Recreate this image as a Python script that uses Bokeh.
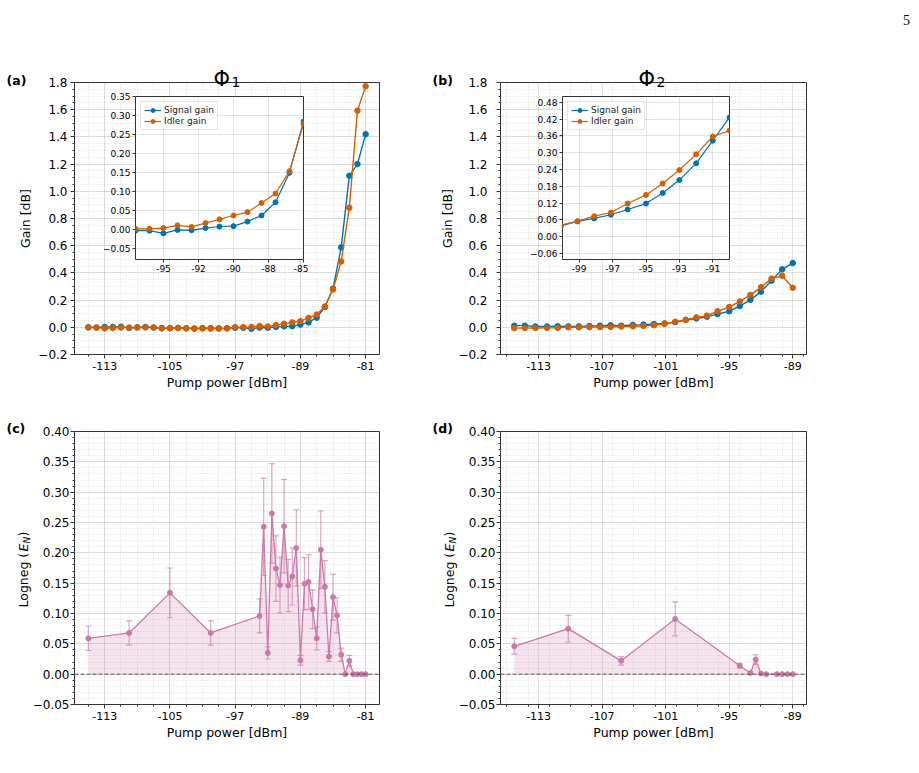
import numpy as np
from bokeh.embed import file_html
from bokeh.resources import INLINE
from bokeh.plotting import figure
from bokeh.models import (ColumnDataSource, FixedTicker, Whisker, TeeHead, Span, Label,
                          Legend, LegendItem, Range1d, GridBox)

FONT = "DejaVu Sans"
BLUE = "#0072B2"
ORANGE = "#D55E00"
PINK = "#CC79A7"

# ---------------- data ----------------
a_x = [-115, -114, -113, -112, -111, -110, -109, -108, -107, -106, -105, -104, -103, -102,
       -101, -100, -99, -98, -97, -96, -95, -94, -93, -92, -91, -90, -89, -88, -87, -86,
       -85, -84, -83, -82, -81]
a_signal = [0.000, -0.002, 0.003, 0.003, 0.005, -0.005, 0.000, 0.002, -0.002, -0.006,
            -0.006, -0.004, -0.007, -0.010, -0.006, -0.006, -0.008, -0.007, -0.004, -0.004,
            -0.011, -0.002, -0.003, 0.003, 0.007, 0.008, 0.020, 0.036, 0.071, 0.149,
            0.284, 0.588, 1.114, 1.200, 1.420]
a_idler = [0.000, -0.002, -0.008, -0.006, -0.002, -0.002, -0.002, -0.001, -0.001, -0.008,
           -0.007, -0.006, -0.008, -0.008, -0.009, -0.010, -0.009, -0.008, 0.001, 0.001,
           0.003, 0.010, 0.006, 0.016, 0.026, 0.036, 0.045, 0.069, 0.094, 0.153,
           0.278, 0.484, 0.879, 1.593, 1.773]

b_x = [-115.3, -114.3, -113.3, -112.2, -111.2, -110.2, -109.2, -108.2, -107.2, -106.2,
       -105.2, -104.1, -103.1, -102.1, -101.1, -100.1, -99.1, -98.1, -97.1, -96.1,
       -95.0, -94.0, -93.0, -92.0, -91.0, -90.0, -89.0]
b_signal = [0.012, 0.012, 0.006, 0.006, 0.008, 0.007, 0.007, 0.010, 0.012, 0.015,
            0.012, 0.017, 0.020, 0.024, 0.028, 0.038, 0.054, 0.065, 0.078, 0.097,
            0.118, 0.156, 0.202, 0.262, 0.343, 0.426, 0.472]
b_idler = [-0.006, -0.006, -0.005, -0.004, -0.004, 0.000, 0.000, 0.001, 0.002, 0.002,
           0.005, 0.007, 0.010, 0.015, 0.025, 0.041, 0.055, 0.073, 0.086, 0.118,
           0.149, 0.190, 0.238, 0.294, 0.358, 0.379, 0.291]

c_x = [-115, -110, -105, -100, -94, -93.5, -93, -92.5, -92, -91.5, -91, -90.5, -90, -89.5,
       -89, -88.5, -88, -87.5, -87, -86.5, -86, -85.5, -85, -84.5, -84, -83.5, -83, -82.5,
       -82, -81.5, -81]
c_logneg = [0.059, 0.068, 0.134, 0.068, 0.096, 0.243, 0.035, 0.265, 0.174, 0.147, 0.244,
            0.146, 0.161, 0.208, 0.023, 0.149, 0.152, 0.107, 0.059, 0.205, 0.144, 0.029,
            0.127, 0.097, 0.032, 0.000, 0.022, 0.000, 0.000, 0.000, 0.000]
c_err = [0.020, 0.020, 0.041, 0.020, 0.028, 0.080, 0.010, 0.082, 0.054, 0.046, 0.077,
         0.043, 0.047, 0.063, 0.008, 0.043, 0.045, 0.032, 0.019, 0.064, 0.043, 0.008,
         0.038, 0.029, 0.011, 0.000, 0.009, 0.000, 0.000, 0.000, 0.000]

d_x = [-115.3, -110.2, -105.2, -100.1, -94.0, -93.0, -92.5, -92.0, -91.5, -90.5, -90.0,
       -89.5, -89.0]
d_logneg = [0.046, 0.075, 0.022, 0.091, 0.014, 0.002, 0.024, 0.001, 0.000, 0.000, 0.000,
            0.000, 0.000]
d_err = [0.013, 0.022, 0.007, 0.028, 0.004, 0.000, 0.008, 0.000, 0.000, 0.000, 0.000,
         0.000, 0.000]

# ---------------- ticks ----------------
a_x_ticks = [-113, -105, -97, -89, -81]
a_x_labels = ["-113", "-105", "-97", "-89", "-81"]
b_x_ticks = [-113, -107, -101, -95, -89]
b_x_labels = ["-113", "-107", "-101", "-95", "-89"]
gain_y_ticks = [-0.2, 0.0, 0.2, 0.4, 0.6, 0.8, 1.0, 1.2, 1.4, 1.6, 1.8]
gain_y_labels = ["\u22120.2", "0.0", "0.2", "0.4", "0.6", "0.8", "1.0", "1.2", "1.4", "1.6", "1.8"]
ln_y_ticks = [-0.05, 0.0, 0.05, 0.1, 0.15, 0.2, 0.25, 0.3, 0.35, 0.4]
ln_y_labels = ["\u22120.05", "0.00", "0.05", "0.10", "0.15", "0.20", "0.25", "0.30", "0.35", "0.40"]
ia_x_ticks = [-95, -92.5, -90, -87.5, -85]
ia_x_labels = ["-95", "-92", "-90", "-88", "-85"]
ia_y_ticks = [-0.05, 0.0, 0.05, 0.1, 0.15, 0.2, 0.25, 0.3, 0.35]
ia_y_labels = ["\u22120.05", "0.00", "0.05", "0.10", "0.15", "0.20", "0.25", "0.30", "0.35"]
ib_x_ticks = [-99, -97, -95, -93, -91]
ib_x_labels = ["-99", "-97", "-95", "-93", "-91"]
ib_y_ticks = [-0.06, 0.0, 0.06, 0.12, 0.18, 0.24, 0.3, 0.36, 0.42, 0.48]
ib_y_labels = ["\u22120.06", "0.00", "0.06", "0.12", "0.18", "0.24", "0.30", "0.36", "0.42", "0.48"]

odd_minor = list(range(-117, -78, 2))
even_minor = list(range(-118, -86, 2))
gain_minor = [round(-0.2 + 0.05 * i, 3) for i in range(41)]
ln_minor = [round(-0.05 + 0.01 * i, 3) for i in range(46)]


def style(p, xt, xl, xminor, yt, yl, yminor, xfs, yfs, ystand, minor_grid=True):
    xtk = FixedTicker(ticks=xt, minor_ticks=xminor)
    ytk = FixedTicker(ticks=yt, minor_ticks=yminor)
    p.xaxis.ticker = xtk
    p.xgrid.ticker = xtk
    p.yaxis.ticker = ytk
    p.ygrid.ticker = ytk
    p.xaxis.major_label_overrides = dict(zip(xt, xl))
    p.yaxis.major_label_overrides = dict(zip(yt, yl))
    for ax in (p.xaxis[0], p.yaxis[0]):
        ax.axis_line_color = None
        ax.major_tick_in = 0
        ax.major_tick_out = 4
        ax.minor_tick_in = 0
        ax.minor_tick_out = 2 if minor_grid else 0
        ax.major_tick_line_color = "#333333"
        ax.minor_tick_line_color = "#333333" if minor_grid else None
        ax.major_label_text_font = FONT
        ax.major_label_text_color = "black"
        ax.axis_label_text_font = FONT
        ax.axis_label_text_font_style = "normal"
        ax.axis_label_text_color = "black"
        ax.axis_label_text_font_size = "12.5px"
        ax.axis_label_standoff = 2
    p.xaxis.major_label_text_font_size = xfs
    p.yaxis.major_label_text_font_size = yfs
    p.xaxis.major_label_standoff = 3
    p.yaxis.major_label_standoff = ystand
    for g in (p.xgrid[0], p.ygrid[0]):
        g.grid_line_color = "#b0b0b0"
        g.grid_line_alpha = 0.45
        g.grid_line_width = 0.8
        if minor_grid:
            g.minor_grid_line_color = "#b0b0b0"
            g.minor_grid_line_alpha = 0.55
            g.minor_grid_line_width = 0.8
            g.minor_grid_line_dash = "1 2"
    p.outline_line_color = "#333333"
    p.outline_line_width = 1
    p.outline_line_alpha = 1


def make_fig(w, h, xr, yr, bl, br, bt, bb, transparent=False):
    p = figure(width=w, height=h, x_range=Range1d(*xr), y_range=Range1d(*yr),
               output_backend="svg", toolbar_location=None,
               min_border_left=bl, min_border_right=br, min_border_top=bt, min_border_bottom=bb)
    p.frame_align = False
    p.background_fill_color = "white"
    p.border_fill_color = None if transparent else "white"
    return p


def gain_glyphs(p, x, s, i, lw=1.4, size=5.5):
    l1 = p.line(x, s, line_color=BLUE, line_width=lw)
    s1 = p.scatter(x, s, size=size, fill_color=BLUE, line_color=BLUE)
    l2 = p.line(x, i, line_color=ORANGE, line_width=lw)
    s2 = p.scatter(x, i, size=size, fill_color=ORANGE, line_color=ORANGE)
    return (l1, s1), (l2, s2)


def logneg_panel(p, x, val, err):
    p.varea(x=x, y1=[0.0] * len(x), y2=val, fill_color=PINK, fill_alpha=0.2)
    p.add_layout(Span(location=0, dimension="width", line_color="#555555", line_dash="4 2",
                      line_width=1))
    keep = [k for k, e in enumerate(err) if e > 0]
    src = ColumnDataSource(dict(x=[x[k] for k in keep],
                                lo=[val[k] - err[k] for k in keep],
                                hi=[val[k] + err[k] for k in keep]))
    p.add_layout(Whisker(source=src, base="x", lower="lo", upper="hi", dimension="height",
                         line_color=PINK, line_alpha=0.65, line_width=1.2,
                         lower_head=TeeHead(size=6, line_color=PINK, line_alpha=0.65, line_width=1.2),
                         upper_head=TeeHead(size=6, line_color=PINK, line_alpha=0.65, line_width=1.2)))
    p.line(x, val, line_color=PINK, line_width=1.3)
    p.scatter(x, val, size=5, fill_color=PINK, line_color=PINK)


# ---------------- panel (a) ----------------
pa = make_fig(430, 395, (-116.7, -79.3), (-0.2, 1.8), 74, 51, 82, 41)
gain_glyphs(pa, a_x, a_signal, a_idler)
style(pa, a_x_ticks, a_x_labels, odd_minor, gain_y_ticks, gain_y_labels, gain_minor,
      "11px", "12px", 3)
pa.xaxis.axis_label = "Pump power [dBm]"
pa.yaxis.axis_label = "Gain [dB]"

# ---------------- panel (b) ----------------
pb = make_fig(489, 395, (-116.6, -87.7), (-0.2, 1.8), 70, 113, 82, 41)
gain_glyphs(pb, b_x, b_signal, b_idler)
style(pb, b_x_ticks, b_x_labels, even_minor, gain_y_ticks, gain_y_labels, gain_minor,
      "11px", "12px", 9)
pb.xaxis.axis_label = "Pump power [dBm]"
pb.yaxis.axis_label = "Gain [dB]"
pb.yaxis.axis_label_standoff = 0

# ---------------- panel (c) ----------------
pc = make_fig(430, 378, (-116.7, -79.3), (-0.05, 0.40), 74, 51, 36, 69)
logneg_panel(pc, c_x, c_logneg, c_err)
style(pc, a_x_ticks, a_x_labels, odd_minor, ln_y_ticks, ln_y_labels, ln_minor,
      "11px", "12px", 1)
pc.xaxis.axis_label = "Pump power [dBm]"

# ---------------- panel (d) ----------------
pd_ = make_fig(489, 378, (-116.6, -87.7), (-0.05, 0.40), 70, 113, 36, 69)
logneg_panel(pd_, d_x, d_logneg, d_err)
style(pd_, b_x_ticks, b_x_labels, even_minor, ln_y_ticks, ln_y_labels, ln_minor,
      "11px", "12px", 1)
pd_.xaxis.axis_label = "Pump power [dBm]"


# ---------------- insets ----------------
def make_inset(x, s, i, xr, yr, xt, xl, yt, yl):
    p = make_fig(213, 187, xr, yr, 40, 5, 4, 20, transparent=True)
    (l1, s1), (l2, s2) = gain_glyphs(p, x, s, i, lw=1.2, size=5)
    style(p, xt, xl, [], yt, yl, [], "9px", "9px", 2, minor_grid=False)
    p.xaxis.major_tick_out = 3
    p.yaxis.major_tick_out = 3
    p.xaxis.major_label_standoff = 2
    leg = Legend(items=[LegendItem(label="Signal gain", renderers=[l1, s1]),
                        LegendItem(label="Idler gain", renderers=[l2, s2])],
                 location="top_left", label_text_font=FONT, label_text_font_size="9px",
                 label_text_color="#222222",
                 glyph_width=17, glyph_height=10, label_height=10, spacing=1, padding=3,
                 margin=5, label_standoff=3, border_line_color="#cccccc",
                 border_line_width=1, background_fill_alpha=0.85)
    p.add_layout(leg)
    return p


ia = make_inset(a_x, a_signal, a_idler, (-97, -85), (-0.08, 0.35),
                ia_x_ticks, ia_x_labels, ia_y_ticks, ia_y_labels)
ib = make_inset(b_x, b_signal, b_idler, (-100, -90), (-0.082, 0.501),
                ib_x_ticks, ib_x_labels, ib_y_ticks, ib_y_labels)

# ---------------- transparent text overlay (page pixel coordinates) ----------------
ov = figure(width=919, height=773, x_range=Range1d(0, 919), y_range=Range1d(773, 0),
            output_backend="svg", toolbar_location=None,
            min_border_left=0, min_border_right=0, min_border_top=0, min_border_bottom=0,
            x_axis_location=None, y_axis_location=None)
ov.frame_align = False
ov.xgrid.visible = False
ov.ygrid.visible = False
ov.outline_line_color = None
ov.background_fill_color = None
ov.border_fill_color = None


def txt(x, y, text, size, style="normal", align="left", angle=0.0, font=FONT):
    ov.add_layout(Label(x=x, y=y, text=text, text_font=font, text_font_size=size,
                        text_font_style=style, text_align=align, text_baseline="alphabetic",
                        angle=angle, text_color="black"))


# titles: Phi with subscript
txt(213, 78, "\u03a6", "21px")
txt(231, 81, "1", "14px")
txt(638, 78, "\u03a6", "21px")
txt(656, 81, "2", "14px")
txt(6, 80, "(a)", "12.5px", style="bold")
txt(432, 80, "(b)", "12.5px", style="bold")
txt(6, 428, "(c)", "12.5px", style="bold")
txt(432, 428, "(d)", "12.5px", style="bold")
txt(906, 19, "5", "14px", align="center", font="Liberation Serif")

for xb in (23, 449):
    ang = np.pi / 2
    txt(xb, 607, "Logneg (", "12.5px", angle=ang)
    txt(xb, 551, "E", "12.5px", style="italic", angle=ang)
    txt(xb + 3, 543, "N", "9px", style="italic", angle=ang)
    txt(xb, 536, ")", "12.5px", angle=ang)

layout = GridBox(children=[(pa, 0, 0, 395, 430), (pb, 0, 430, 395, 489),
                           (pc, 395, 0, 378, 430), (pd_, 395, 430, 378, 489),
                           (ia, 92, 95, 187, 213), (ib, 92, 522, 187, 212),
                           (ov, 0, 0, 773, 919)],
                 rows="1px", cols="1px")

open("out.html", "w").write(file_html(layout, INLINE))
